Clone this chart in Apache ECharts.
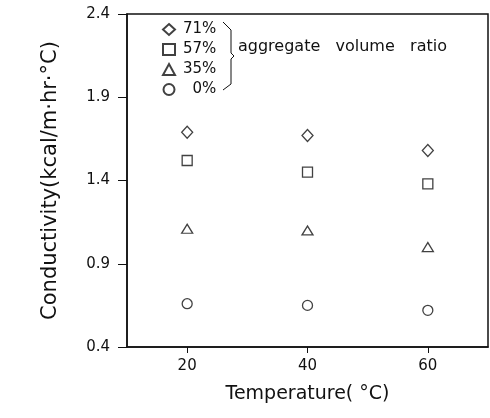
<!DOCTYPE html>
<html>
<head>
<meta charset="utf-8">
<script src="https://cdn.jsdelivr.net/npm/echarts@6/dist/echarts.min.js"></script>
<style>
  html, body { margin: 0; padding: 0; background: #fff; }
  #chart { width: 490px; height: 418px; }
</style>
</head>
<body>
<div id="chart"></div>
<script>
// temperatures (°C)
const temps = [20, 40, 60];
// conductivity per aggregate volume ratio
const seriesNames = ["71%", "57%", "35%", "0%"];
const ratio71 = [1.69, 1.67, 1.58];
const ratio57 = [1.52, 1.45, 1.38];
const ratio35 = [1.11, 1.10, 1.00];
const ratio0 = [0.66, 0.65, 0.62];
const yTicks = [0.4, 0.9, 1.4, 1.9, 2.4];
const xTicks = [20, 40, 60];

const symbols = ["diamond", "rect", "triangle", "circle"];
const sizes = [[11, 12], 10, [11, 9], 10];
const allValues = [ratio71, ratio57, ratio35, ratio0];

const font = "DejaVu Sans";
const chart = echarts.init(document.getElementById("chart"));

const series = allValues.map((vals, i) => ({
  name: seriesNames[i],
  type: "scatter",
  symbol: symbols[i],
  symbolSize: sizes[i],
  data: temps.map((t, j) => [t, vals[j]]),
  itemStyle: { color: "#fff", borderColor: "#111", borderWidth: 1.3 },
}));

chart.setOption({
  animation: false,
  textStyle: { fontFamily: font, color: "#111" },
  grid: {
    left: 127, right: 2, top: 14, bottom: 71,
    show: true, borderColor: "#111", borderWidth: 1.5,
  },
  legend: {
    orient: "vertical",
    left: 157, top: 17,
    itemGap: 5,
    itemWidth: 12, itemHeight: 11,
    textStyle: { fontFamily: font, fontSize: 15, color: "#111", padding: [0, 0, 0, 3] },
    formatter: name => (name.length < 3 ? "  " + name : name),
    data: seriesNames,
  },
  xAxis: {
    type: "value",
    min: 10, max: 70,
    name: "Temperature( °C)",
    nameLocation: "middle",
    nameGap: 38,
    nameTextStyle: { fontSize: 19, color: "#111" },
    axisLine: { lineStyle: { color: "#111", width: 1.5 } },
    axisTick: { customValues: xTicks, length: 6, lineStyle: { color: "#111" } },
    axisLabel: { customValues: xTicks, fontSize: 15, color: "#111", margin: 12 },
    splitLine: { show: false },
  },
  yAxis: {
    type: "value",
    min: 0.4, max: 2.4,
    name: "Conductivity(kcal/m·hr·°C)",
    nameLocation: "middle",
    nameGap: 66,
    nameTextStyle: { fontSize: 21, color: "#111" },
    axisLine: { lineStyle: { color: "#111", width: 1.5 } },
    axisTick: { customValues: yTicks, length: 9, lineStyle: { color: "#111" } },
    axisLabel: {
      customValues: yTicks, fontSize: 15, color: "#111", margin: 17,
      formatter: v => v.toFixed(1),
    },
    splitLine: { show: false },
  },
  graphic: [
    {
      type: "polyline",
      shape: { points: [[223, 22], [231, 30], [231, 53], [234, 56], [231, 59], [231, 84], [223, 90]] },
      style: { fill: null, stroke: "#111", lineWidth: 1 },
    },
    {
      type: "text",
      left: 238, top: 39,
      style: { text: "aggregate   volume   ratio", font: "16px " + font, fill: "#111" },
    },
  ],
  series: series,
});
</script>
</body>
</html>
